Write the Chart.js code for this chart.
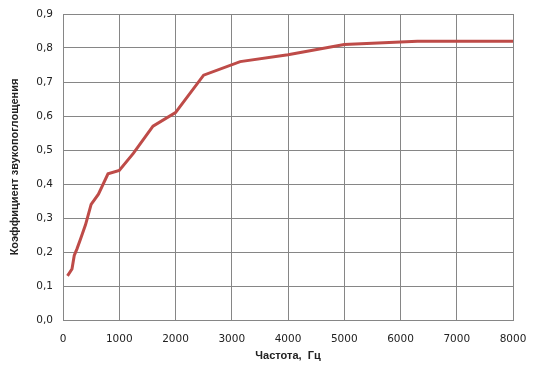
<!DOCTYPE html>
<html lang="ru">
<head>
  <meta charset="UTF-8">
  <title>Коэффициент звукопоглощения</title>
  <script src="https://cdn.jsdelivr.net/npm/chart.js"></script>
  <style>
    html, body { margin: 0; padding: 0; background: #fff; }
  </style>
</head>
<body>
  <canvas id="grafico" width="535" height="371"></canvas>

  <script>
    // частоты, Гц
    const frequencias = [80, 160, 200, 250, 315, 400, 500, 630, 800, 1000, 1250, 1600, 2000, 2500, 3150, 4000, 5000, 6300, 8000];
    // коэффициент звукопоглощения
    const coeficientes = [0.13, 0.15, 0.19, 0.21, 0.24, 0.28, 0.34, 0.37, 0.43, 0.44, 0.49, 0.57, 0.61, 0.72, 0.76, 0.78, 0.81, 0.82, 0.82];
    const xTicks = [0, 1000, 2000, 3000, 4000, 5000, 6000, 7000, 8000];
    const yTicks = [0, 0.1, 0.2, 0.3, 0.4, 0.5, 0.6, 0.7, 0.8, 0.9];

    const fonteTicks = { family: 'DejaVu Sans', size: 10.5 };
    const fonteTitulo = { family: 'Liberation Sans', size: 11, weight: 'bold' };

    new Chart(document.getElementById('grafico').getContext('2d'), {
      type: 'line',
      data: {
        datasets: [{
          data: frequencias.map((f, i) => ({ x: f, y: coeficientes[i] })),
          borderColor: '#BE4B48',
          borderWidth: 3,
          pointRadius: 0,
          tension: 0,
          fill: false
        }]
      },
      options: {
        responsive: false,
        animation: false,
        layout: { padding: { top: 14, right: 22, left: 0, bottom: 0 } },
        plugins: { legend: { display: false }, tooltip: { enabled: false } },
        scales: {
          x: {
            type: 'linear',
            min: xTicks[0],
            max: xTicks[xTicks.length - 1],
            afterBuildTicks: s => { s.ticks = xTicks.map(v => ({ value: v })); },
            afterFit: s => { s.height = 51; s.paddingLeft = 0; s.paddingRight = 0; },
            grid: { color: '#868686', lineWidth: 1, drawTicks: false },
            border: { color: '#868686' },
            ticks: { color: '#222', font: fonteTicks, padding: 13, maxRotation: 0, callback: v => String(v) },
            title: { display: true, text: 'Частота,  Гц', color: '#222', font: fonteTitulo, padding: { top: 0, bottom: 8 } }
          },
          y: {
            min: yTicks[0],
            max: yTicks[yTicks.length - 1],
            afterBuildTicks: s => { s.ticks = yTicks.map(v => ({ value: v })); },
            afterFit: s => { s.width = 63; s.paddingTop = 0; s.paddingBottom = 0; },
            grid: { color: '#868686', lineWidth: 1, drawTicks: false },
            border: { color: '#868686' },
            ticks: { color: '#222', font: fonteTicks, padding: 10, callback: v => v.toFixed(1).replace('.', ',') },
            title: { display: true, text: 'Коэффициент звукопоглощения', color: '#222', font: fonteTitulo, padding: { top: 8, bottom: 0 } }
          }
        }
      }
    });
  </script>
</body>
</html>
